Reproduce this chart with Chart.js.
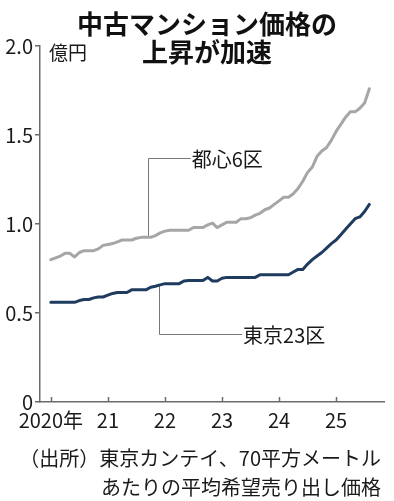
<!DOCTYPE html>
<html>
<head>
<meta charset="utf-8">
<script src="https://cdn.jsdelivr.net/npm/chart.js@4.4.1/dist/chart.umd.min.js"></script>
<style>
  html, body { margin: 0; padding: 0; background: #fff; }
  #wrap { width: 394px; height: 501px; }
</style>
</head>
<body>
<div id="wrap"><canvas id="myChart" width="394" height="501"></canvas></div>
<script>
// monthly asking prices, 100 million yen, from Jan 2020
const firstYear = 2020;
const toshin6 = [
  0.80, 0.81, 0.82, 0.835, 0.835, 0.815, 0.84, 0.85, 0.85, 0.85, 0.86, 0.88,
  0.885, 0.89, 0.90, 0.91, 0.91, 0.91, 0.92, 0.925, 0.925, 0.925, 0.935, 0.95,
  0.96, 0.965, 0.965, 0.965, 0.965, 0.965, 0.98, 0.98, 0.98, 0.995, 1.005, 0.98,
  0.995, 1.01, 1.01, 1.01, 1.03, 1.03, 1.035, 1.05, 1.06, 1.08, 1.09, 1.11,
  1.13, 1.15, 1.15, 1.17, 1.20, 1.24, 1.29, 1.32, 1.38, 1.41, 1.43, 1.47,
  1.52, 1.56, 1.60, 1.63, 1.63, 1.65, 1.68, 1.76
];
const tokyo23 = [
  0.56, 0.56, 0.56, 0.56, 0.56, 0.56, 0.57, 0.576, 0.576, 0.585, 0.59, 0.59,
  0.60, 0.61, 0.615, 0.615, 0.615, 0.63, 0.63, 0.63, 0.63, 0.645, 0.65, 0.658,
  0.665, 0.665, 0.665, 0.665, 0.68, 0.683, 0.683, 0.683, 0.683, 0.70, 0.68, 0.68,
  0.695, 0.70, 0.70, 0.70, 0.70, 0.70, 0.70, 0.70, 0.715, 0.715, 0.715, 0.715,
  0.715, 0.715, 0.715, 0.73, 0.745, 0.745, 0.775, 0.80, 0.82, 0.84, 0.865, 0.89,
  0.91, 0.94, 0.97, 1.00, 1.03, 1.04, 1.07, 1.11
];
const seriesNames = ['都心6区', '東京23区'];
const xTickYears = [2020, 2021, 2022, 2023, 2024, 2025];
const xTickLabels = ['2020年', '21', '22', '23', '24', '25'];
const yTickValues = [0, 0.5, 1, 1.5, 2];
const yTickLabels = ['0', '0.5', '1.0', '1.5', '2.0'];
const titleLines = ['中古マンション価格の', '上昇が加速'];
const unitLabel = '億円';
const sourceLines = ['（出所）東京カンテイ、70平方メートル', 'あたりの平均希望売り出し価格'];

const FONT = '"Noto Sans CJK JP", "Noto Sans", sans-serif';
const AXIS = '#6b6b6b';
const colors = ['#a6a6a6', '#1f3b5e'];

// where the leader lines sit (year on x, value on y)
const callouts = [
  {series: 0, at: 2021.70, level: 1.37, textAt: 2022.47},
  {series: 1, at: 2021.89, level: 0.38, textAt: 2023.37}
];

const allSeries = [toshin6, tokyo23];
const toPoints = arr => arr.map((v, i) => ({x: firstYear + i / 12, y: v}));

function valueAt(arr, year) {
  const f = (year - firstYear) * 12;
  const lo = Math.max(0, Math.min(arr.length - 1, Math.floor(f)));
  const hi = Math.min(arr.length - 1, lo + 1);
  const t = f - lo;
  return arr[lo] + (arr[hi] - arr[lo]) * t;
}

const notesPlugin = {
  id: 'notes',
  beforeDatasetsDraw(chart) {
    const {ctx, scales: {x, y}} = chart;
    ctx.save();
    // x ticks point up into the plot
    ctx.strokeStyle = AXIS;
    ctx.lineWidth = 1.5;
    ctx.beginPath();
    xTickYears.forEach(v => {
      const px = Math.round(x.getPixelForValue(v)) + 0.5;
      ctx.moveTo(px, y.bottom);
      ctx.lineTo(px, y.bottom - 5);
    });
    ctx.stroke();

    // leaders + series labels
    ctx.strokeStyle = '#777';
    ctx.lineWidth = 1;
    ctx.fillStyle = '#1a1a1a';
    ctx.font = '20px ' + FONT;
    ctx.textAlign = 'left';
    ctx.textBaseline = 'middle';
    callouts.forEach(c => {
      const px = Math.round(x.getPixelForValue(c.at)) + 0.5;
      const pyLine = y.getPixelForValue(valueAt(allSeries[c.series], c.at));
      const pyLevel = Math.round(y.getPixelForValue(c.level)) + 0.5;
      const tx = x.getPixelForValue(c.textAt);
      ctx.beginPath();
      ctx.moveTo(px, pyLine);
      ctx.lineTo(px, pyLevel);
      ctx.lineTo(tx - 1, pyLevel);
      ctx.stroke();
      ctx.fillText(seriesNames[c.series], tx, pyLevel + 1);
    });
    ctx.restore();
  },
  afterDraw(chart) {
    const {ctx} = chart;
    ctx.save();
    ctx.fillStyle = '#111';
    ctx.textBaseline = 'middle';
    ctx.textAlign = 'center';
    ctx.font = 'bold 26px ' + FONT;
    ctx.fillText(titleLines[0], 207, 24);
    ctx.fillText(titleLines[1], 207, 52);

    ctx.fillStyle = '#1a1a1a';
    ctx.textAlign = 'left';
    ctx.font = '19px ' + FONT;
    ctx.fillText(unitLabel, 49, 53);

    ctx.textAlign = 'right';
    ctx.font = '20px ' + FONT;
    ctx.fillText(sourceLines[0], 381, 458);
    ctx.fillText(sourceLines[1], 381, 487);
    ctx.restore();
  }
};

const myChart = new Chart(document.getElementById('myChart').getContext('2d'), {
  type: 'line',
  data: {
    datasets: allSeries.map((arr, i) => ({
      label: seriesNames[i],
      data: toPoints(arr),
      borderColor: colors[i],
      backgroundColor: colors[i],
      borderWidth: 3,
      pointRadius: 0,
      tension: 0,
      borderJoinStyle: 'round',
      borderCapStyle: 'round',
      fill: false
    }))
  },
  options: {
    responsive: false,
    animation: false,
    layout: {padding: {top: 46, right: 10, bottom: 69, left: 0}},
    plugins: {
      legend: {display: false},
      tooltip: {enabled: false},
      title: {display: false}
    },
    scales: {
      x: {
        type: 'linear',
        min: 2019.81,
        max: 2025.84,
        afterBuildTicks: s => { s.ticks = xTickYears.map(v => ({value: v})); },
        afterFit: s => { s.height = 30; },
        ticks: {
          callback: (v, i) => xTickLabels[i],
          font: {family: FONT, size: 20},
          color: '#1a1a1a',
          padding: 6,
          maxRotation: 0,
          autoSkip: false
        },
        grid: {display: false, drawTicks: false},
        border: {color: AXIS, width: 1.5}
      },
      y: {
        min: 0,
        max: 2,
        afterBuildTicks: s => { s.ticks = yTickValues.map(v => ({value: v})); },
        afterFit: s => { s.width = 40; },
        ticks: {
          callback: (v, i) => yTickLabels[i],
          font: {family: FONT, size: 20},
          color: '#1a1a1a',
          padding: 2
        },
        grid: {drawOnChartArea: false, drawTicks: true, tickLength: 5, color: AXIS, lineWidth: 1.5},
        border: {color: AXIS, width: 1.5}
      }
    }
  },
  plugins: [notesPlugin]
});
</script>
</body>
</html>
